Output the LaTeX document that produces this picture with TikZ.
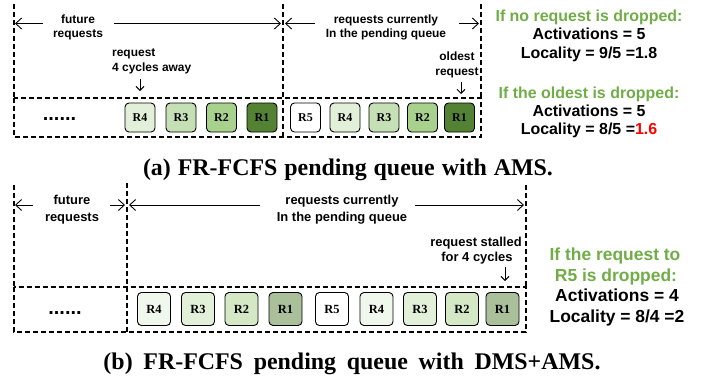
\documentclass[tikz,border=0pt]{standalone}
\usepackage{fontspec}
\setmainfont{Liberation Serif}
\newfontfamily\arialf{Liberation Sans}
\usetikzlibrary{arrows.meta}
\definecolor{aRone}{HTML}{548235}
\definecolor{aRtwo}{HTML}{A9D18E}
\definecolor{aRthree}{HTML}{C5E0B4}
\definecolor{aRfour}{HTML}{E2F0D9}
\definecolor{bRone}{HTML}{A9C09A}
\definecolor{bRtwo}{HTML}{D4E8C6}
\definecolor{bRthree}{HTML}{E2EFD9}
\definecolor{bRfour}{HTML}{F0F7EC}
\definecolor{grn}{HTML}{70AD47}
\definecolor{redt}{HTML}{FF0000}
\begin{document}
\begin{tikzpicture}[x=1bp,y=-1bp,
  dsh/.style={line width=1.1bp, dash pattern=on 5bp off 3bp},
  arr/.style={line width=0.9bp, -{Straight Barb[length=6bp,width=11bp]}},
  darr/.style={line width=0.9bp, -{Straight Barb[length=4bp,width=8bp]}},
  lbla/.style={font=\arialf\bfseries\fontsize{12}{14}\selectfont, anchor=base, inner sep=0},
  lblb/.style={font=\arialf\bfseries\fontsize{13}{15}\selectfont, anchor=base, inner sep=0},
  rta/.style={font=\arialf\bfseries\fontsize{16}{18}\selectfont, anchor=base, inner sep=0},
  rtb/.style={font=\arialf\bfseries\fontsize{17.5}{20}\selectfont, anchor=base, inner sep=0},
  dots/.style={font=\arialf\bfseries\fontsize{20}{22}\selectfont, anchor=base, inner sep=0},
  rboxa/.style={draw, line width=0.9bp, rounded corners=4bp, minimum width=30bp, minimum height=29bp, inner sep=0, font=\bfseries\fontsize{12}{14}\selectfont},
  rboxb/.style={draw, line width=0.9bp, rounded corners=4bp, minimum width=33bp, minimum height=33bp, inner sep=0, font=\bfseries\fontsize{12.5}{14}\selectfont},
  capt/.style={font=\bfseries\fontsize{24}{26}\selectfont, anchor=base, inner sep=0},
]
\useasboundingbox (0,0) rectangle (713,379);

% ================= (a) =================
\draw[dsh] (14,98) rectangle (481,137);
\draw[dsh] (14,4) -- (14,98);
\draw[dsh] (283,4) -- (283,137);
\draw[dsh] (481,4) -- (481,98);

\node[lbla] (fa1) at (78,23) {future};
\node[lbla] (fa2) at (78,37) {requests};
\node[lbla] (pa1) at (386,23) {requests currently};
\node[lbla] (pa2) at (386,37) {In the pending queue};

\coordinate (falt) at (15,23.5);
\coordinate (fals) at (43,23.5);
\coordinate (fars) at (114,23.5);
\coordinate (fart) at (281,23.5);
\coordinate (palt) at (285,23.5);
\coordinate (pals) at (315,23.5);
\coordinate (pars) at (459,23.5);
\coordinate (part) at (479,23.5);
\draw[arr] (fals) -- (falt);
\draw[arr] (fars) -- (fart);
\draw[arr] (pals) -- (palt);
\draw[arr] (pars) -- (part);

\node[lbla, anchor=base west] (ra1) at (112,56.5) {request};
\node[lbla, anchor=base west] (ra2) at (112,71.5) {4 cycles away};
\coordinate (raas) at (140,79);
\coordinate (raae) at (140,91);
\draw[darr] (raas) -- (raae);

\node[lbla] (oa1) at (457,60.5) {oldest};
\node[lbla] (oa2) at (457,75.5) {request};
\coordinate (oaas) at (461,82);
\coordinate (oaae) at (461,94);
\draw[darr] (oaas) -- (oaae);

\node[dots] (dotsa) at (59.5,120) {......};

\node[rboxa, fill=aRfour] (a4) at (140,117.5) {R4};
\node[rboxa, fill=aRthree] (a3) at (181,117.5) {R3};
\node[rboxa, fill=aRtwo] (a2) at (221.5,117.5) {R2};
\node[rboxa, fill=aRone] (a1) at (262,117.5) {R1};
\node[rboxa, fill=white] (ap5) at (305.5,117.5) {R5};
\node[rboxa, fill=aRfour] (ap4) at (345,117.5) {R4};
\node[rboxa, fill=aRthree] (ap3) at (384,117.5) {R3};
\node[rboxa, fill=aRtwo] (ap2) at (422.5,117.5) {R2};
\node[rboxa, fill=aRone] (ap1) at (459.5,117.5) {R1};

\node[rta, text=grn] (ta1) at (589,21.5) {If no request is dropped:};
\node[rta] (ta2) at (589,39.5) {Activations = 5};
\node[rta] (ta3) at (589,58) {Locality = 9/5 =1.8};
\node[rta, text=grn] (ta4) at (589,98.5) {If the oldest is dropped:};
\node[rta] (ta5) at (589,116.5) {Activations = 5};
\node[rta] (ta6) at (589,134.5) {Locality = 8/5 =\textcolor{redt}{1.6}};

\node[capt] (capa) at (348,175) {\hbox to 410bp{\spaceskip=.25em plus 1fil (a) FR-FCFS pending queue with AMS.}};

% ================= (b) =================
\draw[dsh] (14,287) rectangle (526,332);
\draw[dsh] (14,185) -- (14,287);
\draw[dsh] (127,183) -- (127,332);
\draw[dsh] (526,185) -- (526,287);

\node[lblb] (fb1) at (72,204.5) {future};
\node[lblb] (fb2) at (72,221.5) {requests};
\node[lblb] (pb1) at (342,204.5) {requests currently};
\node[lblb] (pb2) at (342,221.5) {In the pending queue};

\coordinate (fblt) at (15,205);
\coordinate (fbls) at (33,205);
\coordinate (fbrs) at (110,205);
\coordinate (fbrt) at (125,205);
\coordinate (pblt) at (129,205);
\coordinate (pbls) at (260,205);
\coordinate (pbrs) at (415,205);
\coordinate (pbrt) at (524,205);
\draw[arr] (fbls) -- (fblt);
\draw[arr] (fbrs) -- (fbrt);
\draw[arr] (pbls) -- (pblt);
\draw[arr] (pbrs) -- (pbrt);

\node[lblb] (sb1) at (476,246.5) {request stalled};
\node[lblb] (sb2) at (477,261.5) {for 4 cycles};
\coordinate (sbas) at (505,267);
\coordinate (sbae) at (505,281);
\draw[darr] (sbas) -- (sbae);

\node[dots] (dotsb) at (65,314) {......};

\node[rboxb, fill=bRfour] (b4) at (154,309) {R4};
\node[rboxb, fill=bRthree] (b3) at (198,309) {R3};
\node[rboxb, fill=bRtwo] (b2) at (241.5,309) {R2};
\node[rboxb, fill=bRone] (b1) at (285.5,309) {R1};
\node[rboxb, fill=white] (bp5) at (332,309) {R5};
\node[rboxb, fill=bRfour] (bp4) at (376.5,309) {R4};
\node[rboxb, fill=bRthree] (bp3) at (420,309) {R3};
\node[rboxb, fill=bRtwo] (bp2) at (462,309) {R2};
\node[rboxb, fill=bRone] (bp1) at (502.5,309) {R1};

\node[rtb, text=grn] (tb1) at (615,260) {If the request to};
\node[rtb, text=grn] (tb2) at (616,281) {R5 is dropped:};
\node[rtb] (tb3) at (617,301.5) {Activations = 4};
\node[rtb] (tb4) at (617,322) {Locality = 8/4 =2};

\node[capt] (capb) at (352,369) {\hbox to 497bp{\spaceskip=.25em plus 1fil (b) FR-FCFS pending queue with DMS+AMS.}};
\end{tikzpicture}
\end{document}
